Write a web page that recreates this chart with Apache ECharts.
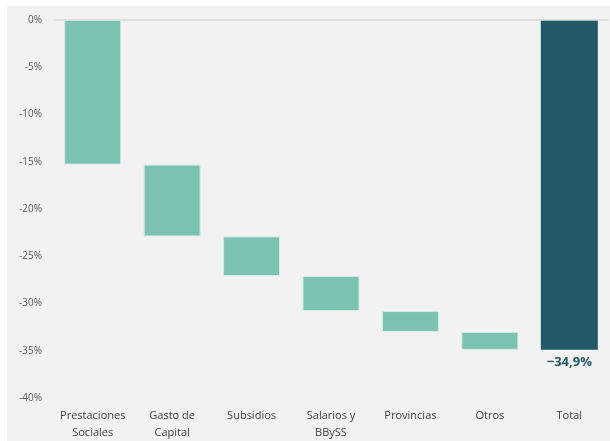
<!DOCTYPE html>
<html>
<head>
<meta charset="utf-8">
<script src="https://cdn.jsdelivr.net/npm/echarts@6/dist/echarts.min.js"></script>
<style>
html,body{margin:0;padding:0;background:#ffffff;}
#bg{position:absolute;left:7px;top:6px;width:603px;height:435px;background:#f2f2f2;}
#chart{position:absolute;left:0;top:0;width:610px;height:441px;}
</style>
</head>
<body>
<div id="bg"></div>
<div id="chart"></div>
<script>
const categories = ['Prestaciones\nSociales', 'Gasto de\nCapital', 'Subsidios', 'Salarios y\nBBySS', 'Provincias', 'Otros', 'Total'];
const deltas = [-15.3, -7.6, -4.2, -3.7, -2.2, -1.9];
const totalValue = -34.9;
const yTicks = [0, -5, -10, -15, -20, -25, -30, -35, -40];

const baseData = [];
const barData = [];
let run = 0;
deltas.forEach(d => { baseData.push(run); barData.push(d); run += d; });
baseData.push(0);
barData.push({
  value: totalValue,
  itemStyle: { color: '#215968', borderWidth: 0 },
  label: {
    show: true, position: 'bottom', distance: 6,
    formatter: () => totalValue.toFixed(1).replace('.', ',').replace('-', '−') + '%',
    color: '#215968', fontWeight: 'bold', fontSize: 13, fontFamily: 'Open Sans'
  }
});

const chart = echarts.init(document.getElementById('chart'));
chart.setOption({
  backgroundColor: 'transparent',
  animation: false,
  grid: { left: 53, right: 1, top: 20, bottom: 43, containLabel: false },
  xAxis: {
    type: 'category', data: categories,
    axisLine: { show: false }, axisTick: { show: false },
    axisLabel: { color: '#404040', fontSize: 11, fontFamily: 'Open Sans', margin: 9, lineHeight: 17, interval: 0 }
  },
  yAxis: {
    type: 'value', min: yTicks[yTicks.length - 1], max: yTicks[0], interval: 5,
    axisLine: { show: false }, axisTick: { show: false },
    splitLine: { show: false },
    axisLabel: { color: '#595959', fontSize: 10, fontFamily: 'Open Sans', margin: 11,
      formatter: v => (v === 0 ? '0' : String(v)) + '%' }
  },
  series: [
    {
      type: 'bar', stack: 'w', data: baseData, barWidth: 57,
      itemStyle: { color: 'transparent' }, silent: true
    },
    {
      type: 'bar', stack: 'w', data: barData, barWidth: 57,
      itemStyle: { color: '#7ac2b1', borderColor: '#d5ebe5', borderWidth: 1 },
      markLine: {
        silent: true, symbol: 'none', label: { show: false },
        lineStyle: { color: '#d9d9d9', type: 'solid', width: 1.5 },
        data: [{ yAxis: 0 }]
      }
    }
  ]
});
</script>
</body>
</html>
